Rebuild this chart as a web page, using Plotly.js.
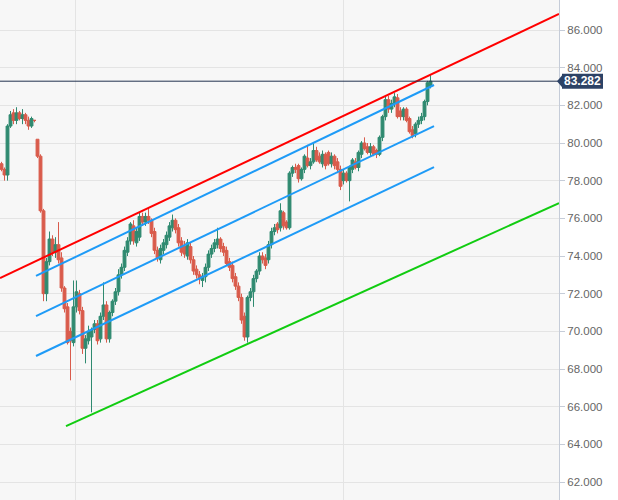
<!DOCTYPE html>
<html>
<head>
<meta charset="utf-8">
<script src="https://cdn.plot.ly/plotly-3.0.1.min.js"></script>
<style>
html,body{margin:0;padding:0;background:#fff;}
#chart{width:618px;height:500px;}
</style>
</head>
<body>
<div id="chart"></div>
<script>
// ---- candle data (index order, one entry per bar) ----
const opens = [78.9,78.6,78.3,80.9,81.6,81.2,81.6,81.3,81.5,81.2,80.9,81.2,80.2,79.3,76.4,72.0,73.7,74.9,74.2,74.6,
73.9,72.3,71.3,70.0,69.4,71.3,72.0,71.1,69.1,69.5,69.7,70.1,70.4,69.6,70.8,71.4,69.6,71.0,71.6,72.1,
73.0,73.4,74.2,74.8,75.6,74.7,75.0,76.1,75.8,76.1,75.9,75.3,74.3,73.8,74.3,74.6,75.0,75.5,75.9,75.5,
74.8,74.5,74.0,74.5,73.8,73.3,73.0,72.7,72.9,73.4,74.1,74.4,74.6,74.9,74.5,74.3,73.7,73.5,72.9,72.4,
71.8,70.8,69.7,71.8,72.1,72.8,73.2,74.0,73.9,73.8,74.6,75.3,75.7,75.5,76.3,75.8,75.5,78.4,78.7,78.8,
78.1,78.6,79.2,78.8,79.0,79.6,79.3,78.9,79.4,79.5,78.9,79.3,79.0,78.6,78.0,78.4,78.0,78.6,79.0,78.7,
79.4,80.0,79.8,79.5,79.8,79.6,79.4,80.3,81.4,82.3,81.8,82.1,82.4,81.7,81.4,81.8,81.3,80.7,80.5,81.0,
81.2,81.4,82.2,83.0];
const highs = [79.0,78.7,81.0,81.7,81.8,81.9,81.7,81.8,81.6,81.4,81.4,81.2,80.2,79.4,76.5,73.9,75.3,75.1,75.0,75.8,
74.2,72.4,71.5,70.2,72.7,72.7,72.2,71.3,69.8,70.3,70.2,70.6,70.6,71.0,72.6,71.6,71.1,71.7,72.3,73.3,
73.6,74.5,75.0,75.8,75.9,75.5,76.3,76.3,76.3,76.55,76.0,75.5,74.5,74.6,74.9,75.3,75.8,76.2,76.0,75.7,
75.0,74.8,74.9,74.7,74.0,73.5,73.2,73.1,73.6,74.3,74.6,74.9,75.5,75.0,74.7,74.5,73.9,73.7,73.1,72.6,
72.0,71.0,71.9,72.3,73.0,73.3,74.2,74.2,74.1,74.8,75.5,75.7,75.8,76.8,76.4,75.9,78.5,78.8,78.9,78.9,
78.7,79.4,79.9,79.2,80.05,79.8,79.5,79.6,79.5,79.6,79.5,79.4,79.2,78.8,78.6,78.5,78.8,79.2,79.2,79.6,
80.1,80.3,80.0,80.0,79.9,79.7,80.4,81.5,82.5,82.5,82.3,82.65,82.6,81.9,81.9,81.9,81.4,80.9,81.1,81.4,
81.6,82.3,83.3,83.6];
const lows = [78.5,78.0,78.0,80.8,81.0,81.0,81.2,81.0,81.0,80.7,80.8,81.1,79.2,76.3,71.6,71.6,73.5,74.0,73.9,73.6,
72.1,71.0,69.3,67.4,69.2,71.0,70.9,68.8,68.3,69.3,65.7,69.9,69.3,69.4,70.6,69.4,69.4,70.8,71.4,71.9,
72.8,73.2,74.0,74.6,74.6,74.5,74.8,75.6,75.6,75.7,75.0,74.1,73.7,73.6,74.1,74.4,74.8,75.3,75.2,74.5,
74.0,73.9,73.8,73.6,73.0,72.8,72.5,72.35,72.6,73.2,73.9,74.2,74.4,74.2,74.0,73.5,73.2,72.6,72.2,71.6,
70.4,69.5,69.4,71.6,71.3,72.6,73.0,73.6,73.3,73.6,74.4,75.1,75.2,75.3,75.4,75.4,75.4,78.2,78.4,77.9,
78.0,78.4,78.7,78.6,78.9,79.0,78.9,78.7,78.6,78.8,78.7,78.6,78.4,77.5,77.8,77.9,76.9,78.4,78.6,78.5,
79.2,79.6,79.4,79.3,79.3,79.2,79.3,80.1,81.2,81.6,81.6,81.9,81.3,81.2,81.2,81.1,80.5,80.25,80.3,80.8,
81.0,81.2,82.0,82.9];
const closes = [78.6,78.3,80.9,81.5,81.2,81.6,81.3,81.5,81.2,80.9,81.3,81.2,79.3,76.4,72.0,73.7,74.9,74.2,74.6,73.8,
72.3,71.2,69.4,69.5,71.3,72.1,71.1,69.1,69.6,70.0,70.1,70.4,69.5,70.8,71.4,69.6,71.0,71.6,72.1,73.0,
73.4,74.3,74.8,75.7,74.8,75.3,76.1,75.8,76.1,75.9,75.2,74.3,73.9,74.4,74.7,75.1,75.6,75.9,75.4,74.7,
74.2,74.1,74.7,73.8,73.2,73.0,72.8,72.9,73.4,74.1,74.4,74.7,74.9,74.4,74.2,73.6,73.4,72.8,72.4,71.8,
70.6,69.7,71.8,72.1,72.8,73.2,74.0,73.8,73.5,74.6,75.3,75.5,75.4,76.4,75.6,75.5,78.4,78.7,78.6,78.1,
78.6,79.3,78.8,79.0,79.6,79.1,79.0,79.4,78.8,78.9,79.3,78.8,78.6,77.7,78.4,78.0,78.7,79.1,78.7,79.5,
80.0,79.7,79.5,79.8,79.4,79.4,80.3,81.4,82.3,81.8,82.1,82.45,81.4,81.4,81.8,81.2,80.6,80.4,81.0,81.2,
81.4,82.2,83.2,83.282];

// ---- trend lines (x in bar index, y in price) ----
const redLineX = [-0.5, 185.83],   redLineY = [72.83, 86.85];
const blueTopX = [11.5, 144.17],   blueTopY = [72.94, 83.08];
const blueMidX = [11.5, 144.17],   blueMidY = [70.81, 80.90];
const blueBotX = [11.5, 144.17],   blueBotY = [68.69, 78.72];
const greenLineX = [21.5, 185.83], greenLineY = [64.97, 76.81];

// ---- axis ----
const lastPrice = 83.282;
const yTicks = [62,64,66,68,70,72,74,76,78,80,82,84,86];
const xGridVals = [24.5, 113.83];
const xRange = [-0.5, 185.83];
const yRange = [61.044, 87.593];

const idx = closes.map((_, i) => i);

const traces = [
  {
    type: 'candlestick', x: idx, open: opens, high: highs, low: lows, close: closes,
    increasing: {line: {color: '#2f8a70', width: 1}, fillcolor: '#2f8a70'},
    decreasing: {line: {color: '#d95b4b', width: 1}, fillcolor: '#d95b4b'},
    whiskerwidth: 0, hoverinfo: 'skip', showlegend: false
  },
  {type:'scatter', mode:'lines', x: redLineX, y: redLineY, line:{color:'#ff0000', width:2}, hoverinfo:'skip', showlegend:false},
  {type:'scatter', mode:'lines', x: blueTopX, y: blueTopY, line:{color:'#1e9bf7', width:2}, hoverinfo:'skip', showlegend:false},
  {type:'scatter', mode:'lines', x: blueMidX, y: blueMidY, line:{color:'#1e9bf7', width:2}, hoverinfo:'skip', showlegend:false},
  {type:'scatter', mode:'lines', x: blueBotX, y: blueBotY, line:{color:'#1e9bf7', width:2}, hoverinfo:'skip', showlegend:false},
  {type:'scatter', mode:'lines', x: greenLineX, y: greenLineY, line:{color:'#11cc11', width:2}, hoverinfo:'skip', showlegend:false},
  {type:'scatter', mode:'lines', x: xRange, y: [lastPrice, lastPrice], line:{color:'#22324f', width:1}, hoverinfo:'skip', showlegend:false}
];

const plotW = 559;
const yp = (lastPrice - yRange[0]) / (yRange[1] - yRange[0]);
const hUnit = 1 / 500; // paper y per pixel
const wUnit = 1 / plotW;
const tagCol = '#2c4266';

const layout = {
  width: 618, height: 500,
  margin: {l: 0, r: 59, t: 0, b: 0, pad: 0},
  paper_bgcolor: '#ffffff', plot_bgcolor: '#f7f7f7',
  showlegend: false, hovermode: false,
  boxgap: 0.05, boxgroupgap: 0,
  xaxis: {
    range: xRange, showticklabels: false, tickvals: xGridVals, ticks: '',
    showgrid: true, gridcolor: '#e4e4e4', gridwidth: 1, zeroline: false,
    rangeslider: {visible: false}, fixedrange: true
  },
  yaxis: {
    side: 'right', range: yRange, tickvals: yTicks, tickformat: '.3f',
    ticks: 'outside', ticklen: 5, tickcolor: '#c5ccd8', tickwidth: 1,
    showline: true, linecolor: '#c5ccd8', linewidth: 1,
    showgrid: true, gridcolor: '#e4e4e4', gridwidth: 1, zeroline: false,
    tickfont: {family: 'Liberation Sans, Arial, sans-serif', size: 11.5, color: '#666666'},
    fixedrange: true
  },
  shapes: [
    {type: 'path', xref: 'paper', yref: 'paper', layer: 'above',
     path: 'M ' + (557 * wUnit) + ' ' + yp + ' L ' + (563 * wUnit) + ' ' + (yp + 7 * hUnit) + ' L ' + (563 * wUnit) + ' ' + (yp - 7 * hUnit) + ' Z',
     fillcolor: tagCol, line: {width: 0}},
    {type: 'rect', xref: 'paper', yref: 'paper', layer: 'above',
     x0: 562 * wUnit, x1: 603 * wUnit, y0: yp - 7.5 * hUnit, y1: yp + 7.5 * hUnit,
     fillcolor: tagCol, line: {width: 0}}
  ],
  annotations: [
    {xref: 'paper', yref: 'paper', x: 582.5 * wUnit, y: yp, xanchor: 'center', yanchor: 'middle',
     text: '<b>' + lastPrice.toFixed(3) + '</b>', showarrow: false,
     font: {family: 'Liberation Sans, Arial, sans-serif', size: 12, color: '#ffffff'}}
  ]
};

Plotly.newPlot('chart', traces, layout, {displayModeBar: false, staticPlot: true});
</script>
</body>
</html>
